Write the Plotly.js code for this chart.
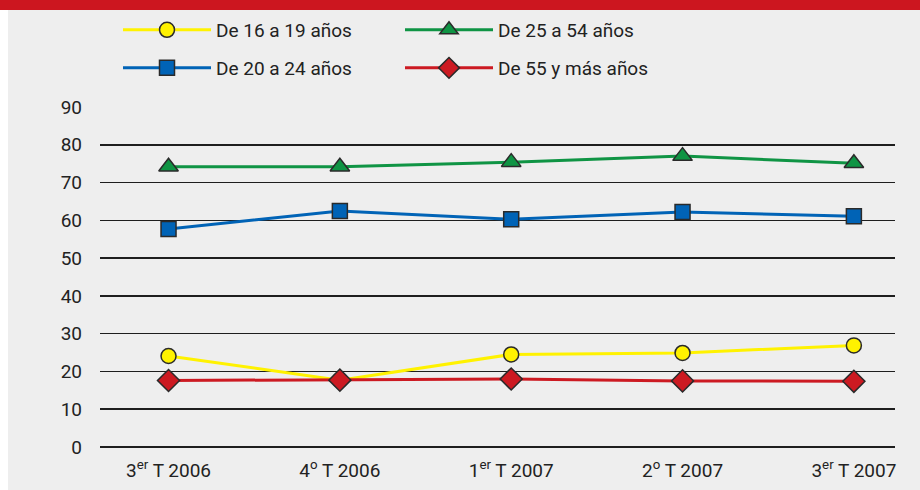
<!DOCTYPE html>
<html>
<head>
<meta charset="utf-8">
<script src="https://cdn.plot.ly/plotly-3.0.1.min.js"></script>
<style>
html,body{margin:0;padding:0;background:#eeeeee;}
#chart{width:920px;height:490px;}
</style>
</head>
<body>
<div id="chart"></div>
<script>
const categories = ["3<sup>er</sup> T 2006", "4<sup>o</sup> T 2006", "1<sup>er</sup> T 2007", "2<sup>o</sup> T 2007", "3<sup>er</sup> T 2007"];
const seriesNames = ["De 16 a 19 años", "De 25 a 54 años", "De 20 a 24 años", "De 55 y más años"];
const age16to19 = [24.1, 17.7, 24.5, 24.9, 26.9];
const age25to54 = [74.2, 74.2, 75.4, 77.0, 75.1];
const age20to24 = [57.7, 62.5, 60.3, 62.2, 61.1];
const age55plus = [17.6, 17.7, 18.0, 17.5, 17.4];
const yTicks = [0, 10, 20, 30, 40, 50, 60, 70, 80, 90];

const FONT = 'Roboto, "DejaVu Sans", sans-serif';
const edge = '#2a2a2a';

function tr(name, y, color, symbol, size, legend) {
  return {
    type: 'scatter', mode: 'lines+markers', name: name,
    x: categories, y: y, legend: legend, cliponaxis: false,
    line: {color: color, width: 3},
    marker: {symbol: symbol, size: size, color: color, line: {color: edge, width: 1.5}}
  };
}

const data = [
  tr(seriesNames[0], age16to19, '#fff200', 'circle', 15, 'legend'),
  tr(seriesNames[1], age25to54, '#0f9444', 'triangle-up', 17, 'legend'),
  tr(seriesNames[2], age20to24, '#0063b6', 'square', 15, 'legend2'),
  tr(seriesNames[3], age55plus, '#cc1a22', 'diamond', 17, 'legend2')
];

const legendBase = {
  orientation: 'h', xref: 'container', yref: 'container',
  x: 118/920, xanchor: 'left', yanchor: 'middle',
  bgcolor: 'rgba(0,0,0,0)', entrywidth: 179, entrywidthmode: 'pixels', itemwidth: 88,
  font: {family: FONT, size: 19, color: '#222'}, traceorder: 'normal'
};

const layout = {
  width: 920, height: 490,
  margin: {l: 100, r: 25, t: 107, b: 43},
  paper_bgcolor: '#eeeeee', plot_bgcolor: '#eeeeee',
  font: {family: FONT, size: 19, color: '#222'},
  showlegend: true,
  legend: Object.assign({}, legendBase, {y: 1 - 30/490}),
  legend2: Object.assign({}, legendBase, {y: 1 - 68/490}),
  xaxis: {
    type: 'category', range: [-0.4, 4.24], showgrid: false, zeroline: false,
    showline: false, ticks: '', ticklabelstandoff: 10,
    tickfont: {family: FONT, size: 19, color: '#222'}, fixedrange: true
  },
  yaxis: {
    range: [0, 90], tickvals: yTicks, showgrid: true, gridcolor: '#1e1e1e', gridwidth: 1.6,
    zeroline: true, zerolinecolor: '#1e1e1e', zerolinewidth: 1.6, showline: false,
    ticks: '', ticklabelstandoff: 17,
    tickfont: {family: FONT, size: 19, color: '#222'}, fixedrange: true
  },
  shapes: [
    {type: 'rect', xref: 'paper', yref: 'paper', x0: -0.2, x1: 1.1, y0: (447-10)/340, y1: 1.4,
     fillcolor: '#cc161f', line: {width: 0}, layer: 'below'},
    {type: 'rect', xref: 'paper', yref: 'paper', x0: -0.2, x1: (8-100)/795, y0: -0.2, y1: (447-10)/340,
     fillcolor: '#ffffff', line: {width: 0}, layer: 'below'}
  ]
};

Plotly.newPlot('chart', data, layout, {displayModeBar: false, staticPlot: true});
</script>
</body>
</html>
